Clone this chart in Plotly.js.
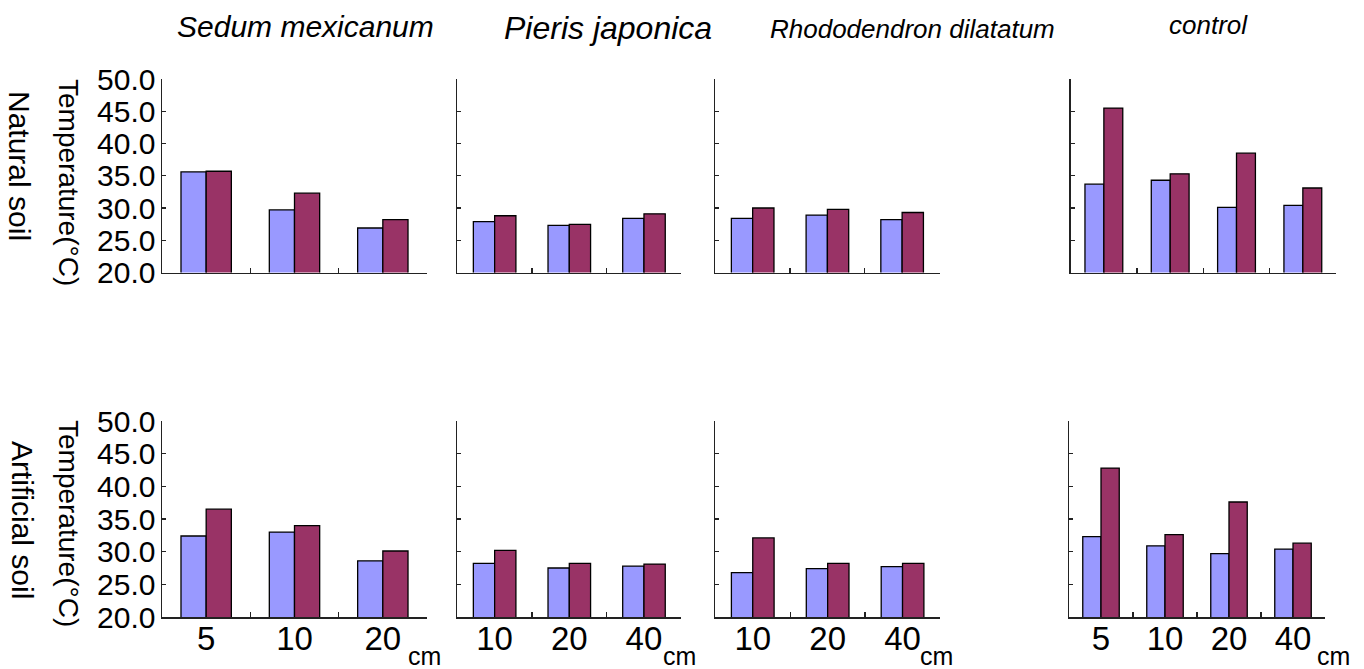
<!DOCTYPE html>
<html>
<head>
<meta charset="utf-8">
<script src="https://cdn.plot.ly/plotly-3.0.1.min.js"></script>
<style>html,body{margin:0;padding:0;background:#fff;}#chart{width:1364px;height:669px;}</style>
</head>
<body>
<div id="chart"></div>
<script>
// Categories (depth, cm)
const depthsSedum = ['5', '10', '20'];
const depthsShrub = ['10', '20', '40'];
const depthsControl = ['5', '10', '20', '40'];

const panelTitles = ['Sedum mexicanum', 'Pieris japonica', 'Rhododendron dilatatum', 'control'];
const rowLabels = ['Natural soil', 'Artificial soil'];
const yTitle = 'Temperature(°C)';
const unitLabel = 'cm';
const yTickVals = [20, 25, 30, 35, 40, 45, 50];

// Natural soil
const sedumNatBlue = [35.6, 29.7, 26.9];
const sedumNatRed = [35.7, 32.3, 28.2];
const pierisNatBlue = [27.9, 27.3, 28.4];
const pierisNatRed = [28.8, 27.45, 29.1];
const rhodoNatBlue = [28.4, 28.9, 28.2];
const rhodoNatRed = [30.0, 29.8, 29.3];
const controlNatBlue = [33.7, 34.3, 30.1, 30.4];
const controlNatRed = [45.5, 35.3, 38.5, 33.1];

// Artificial soil
const sedumArtBlue = [32.4, 33.0, 28.6];
const sedumArtRed = [36.5, 34.0, 30.1];
const pierisArtBlue = [28.2, 27.5, 27.8];
const pierisArtRed = [30.2, 28.2, 28.1];
const rhodoArtBlue = [26.8, 27.4, 27.7];
const rhodoArtRed = [32.1, 28.2, 28.2];
const controlArtBlue = [32.3, 30.9, 29.7, 30.4];
const controlArtRed = [42.8, 32.6, 37.6, 31.3];

const W = 1364, H = 669;
const FONT = 'Liberation Sans, Arial, sans-serif';
const BLUE = '#9999FF', RED = '#993366';

const panels = [
  {cats: depthsSedum, b: sedumNatBlue, r: sedumNatRed, x: [162, 427], y: [79, 272.5], bottom: false, left: true},
  {cats: depthsShrub, b: pierisNatBlue, r: pierisNatRed, x: [457.3, 681.3], y: [79, 272.5], bottom: false, left: false},
  {cats: depthsShrub, b: rhodoNatBlue, r: rhodoNatRed, x: [715.3, 939.5], y: [79, 272.5], bottom: false, left: false},
  {cats: depthsControl, b: controlNatBlue, r: controlNatRed, x: [1070.7, 1336], y: [79, 272.5], bottom: false, left: false},
  {cats: depthsSedum, b: sedumArtBlue, r: sedumArtRed, x: [162, 427], y: [421, 617], bottom: true, left: true},
  {cats: depthsShrub, b: pierisArtBlue, r: pierisArtRed, x: [457.3, 681.3], y: [421, 617], bottom: true, left: false},
  {cats: depthsShrub, b: rhodoArtBlue, r: rhodoArtRed, x: [715.3, 940], y: [421, 617], bottom: true, left: false},
  {cats: depthsControl, b: controlArtBlue, r: controlArtRed, x: [1069, 1325], y: [421, 617], bottom: true, left: false}
];

const traces = [];
const layout = {
  width: W, height: H,
  margin: {l: 0, r: 0, t: 0, b: 0},
  paper_bgcolor: '#fff', plot_bgcolor: 'rgba(0,0,0,0)',
  showlegend: false,
  barmode: 'group', bargap: 0.43, bargroupgap: 0,
  font: {family: FONT, color: '#000'},
  annotations: []
};

panels.forEach((p, i) => {
  const n = i + 1;
  const xa = 'x' + (n === 1 ? '' : n), ya = 'y' + (n === 1 ? '' : n);
  const mk = c => ({color: c, line: {color: '#000', width: 1.3}});
  traces.push({type: 'bar', x: p.cats, y: p.b, xaxis: xa, yaxis: ya, marker: mk(BLUE), name: 'Series 1', hoverinfo: 'x+y'});
  traces.push({type: 'bar', x: p.cats, y: p.r, xaxis: xa, yaxis: ya, marker: mk(RED), name: 'Series 2', hoverinfo: 'x+y'});
  layout['xaxis' + (n === 1 ? '' : n)] = {
    domain: [p.x[0] / W, p.x[1] / W], anchor: ya,
    type: 'category', showline: true, linecolor: '#222', linewidth: 1.5,
    ticks: 'inside', tickson: 'boundaries', ticklen: 5, tickcolor: '#222', tickwidth: 1.3,
    showgrid: false, zeroline: false, fixedrange: true,
    showticklabels: p.bottom, tickfont: {size: 33, family: FONT, color: '#000'}, ticklabelstandoff: -8
  };
  layout['yaxis' + (n === 1 ? '' : n)] = {
    domain: [1 - p.y[1] / H, 1 - p.y[0] / H], anchor: xa,
    range: [20, 50], tickvals: yTickVals, tickformat: '.1f',
    showline: true, linecolor: '#222', linewidth: 1.5,
    ticks: 'inside', ticklen: 4, tickcolor: '#222', tickwidth: 1.3,
    showgrid: false, zeroline: false, fixedrange: true,
    showticklabels: p.left, tickfont: {size: 30, family: FONT, color: '#000'}, ticklabelstandoff: -1
  };
});

function ann(text, px, py, size, opts) {
  return Object.assign({
    text: text, xref: 'paper', yref: 'paper', x: px / W, y: 1 - py / H,
    xanchor: 'center', yanchor: 'middle', showarrow: false,
    font: {size: size, family: FONT, color: '#000'}
  }, opts || {});
}

layout.annotations.push(ann('<i>' + panelTitles[0] + '</i>', 305.5, 26, 30));
layout.annotations.push(ann('<i>' + panelTitles[1] + '</i>', 607.5, 28, 32));
layout.annotations.push(ann('<i>' + panelTitles[2] + '</i>', 912, 29, 26));
layout.annotations.push(ann('<i>' + panelTitles[3] + '</i>', 1208, 25, 26));

layout.annotations.push(ann(rowLabels[0], 20, 166, 30, {textangle: 90}));
layout.annotations.push(ann(rowLabels[1], 23, 520, 30, {textangle: 90}));
layout.annotations.push(ann(yTitle, 69, 182, 28, {textangle: 90}));
layout.annotations.push(ann(yTitle, 69, 523, 28, {textangle: 90}));

[424, 679.5, 936.5, 1333.5].forEach(cx => {
  layout.annotations.push(ann(unitLabel, cx, H, 25, {yanchor: 'bottom', borderpad: 0, yshift: -2}));
});

Plotly.newPlot('chart', traces, layout, {displayModeBar: false, staticPlot: true});
</script>
</body>
</html>
